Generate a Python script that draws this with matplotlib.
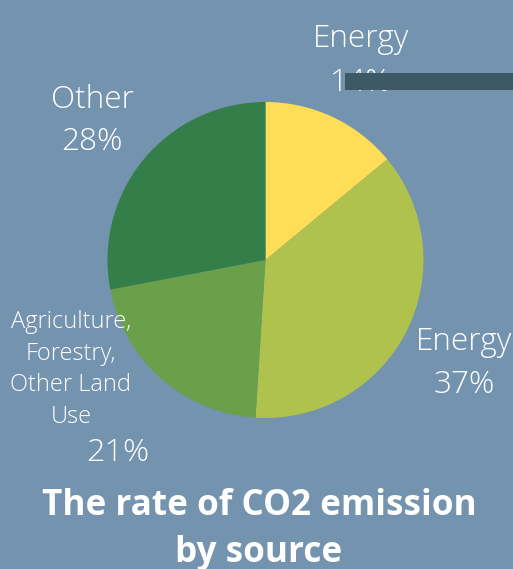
import matplotlib
matplotlib.use("Agg")
import matplotlib.pyplot as plt
from matplotlib.patches import Rectangle

categories = ["Energy", "Energy", "Agriculture,\nForestry,\nOther Land\nUse", "Other"]
values = [14, 37, 21, 28]
colors = ["#FFDD57", "#B0C24E", "#6AA04A", "#347E4A"]
title = "The rate of CO2 emission\nby source"

W, H = 513, 569
BG = "#7393AE"
fig = plt.figure(figsize=(W / 100, H / 100), dpi=100, facecolor=BG)

def fx(x):
    return x / W

def fy(y):
    return 1 - y / H

# pie axes (center ~ (265,260), radius ~158 px)
cx, cy, r = 265.5, 260, 158
ax = fig.add_axes([fx(cx - r), fy(cy + r), 2 * r / W, 2 * r / H])
ax.set_facecolor(BG)
ax.pie(values, colors=colors, startangle=90, counterclock=False,
       wedgeprops=dict(linewidth=0), radius=1)
ax.set_xlim(-1, 1)
ax.set_ylim(-1, 1)
ax.set_aspect("auto")
ax.axis("off")

font = "Open Sans"
lab = dict(color="white", family=font, weight="light", ha="center", va="baseline")
LS = 22.7

# labels (baseline positions in pixels)
fig.text(fx(361), fy(47), categories[0], fontsize=LS, **lab)
fig.text(fx(361), fy(91), f"{values[0]}%", fontsize=LS, **lab)

fig.text(fx(464), fy(350), categories[1], fontsize=LS, **lab)
fig.text(fx(464), fy(393), f"{values[1]}%", fontsize=LS, **lab)

agri_lines = categories[2].split("\n")
for i, line in enumerate(agri_lines):
    fig.text(fx(71), fy(328 + i * 31.7), line, fontsize=17, **lab)
fig.text(fx(118), fy(461), f"{values[2]}%", fontsize=23.4, **lab)

fig.text(fx(92), fy(108), categories[3], fontsize=LS, **lab)
fig.text(fx(92), fy(150), f"{values[3]}%", fontsize=LS, **lab)

# dark bar overlapping top label
fig.patches.append(Rectangle((fx(345), fy(90)), fx(513) - fx(345), fy(73) - fy(90),
                             transform=fig.transFigure, facecolor="#3E5965",
                             edgecolor="none", zorder=5))

t1, t2 = title.split("\n")
tk = dict(color="white", family=font, weight="bold", ha="center", va="baseline", fontsize=25.3)
fig.text(fx(259), fy(515), t1, **tk)
fig.text(fx(259), fy(562), t2, **tk)

fig.savefig("out.png", dpi=100, facecolor=BG)
